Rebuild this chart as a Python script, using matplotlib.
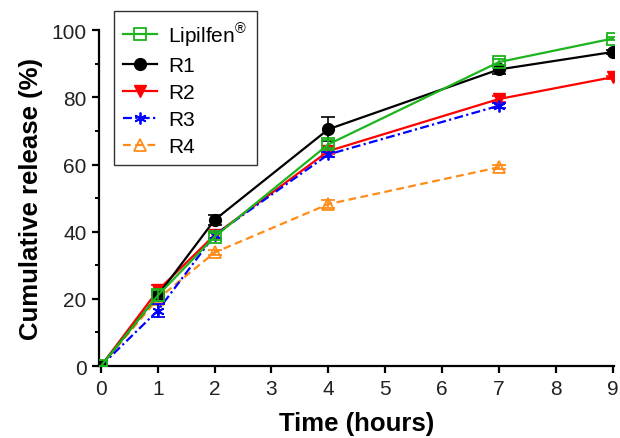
import numpy as np
import matplotlib
matplotlib.use('Agg')
import matplotlib.pyplot as plt
from matplotlib.ticker import MultipleLocator

plt.rcParams['font.family'] = ['Liberation Sans', 'DejaVu Sans']
plt.rcParams['mathtext.fontset'] = 'custom'
plt.rcParams['mathtext.rm'] = 'Liberation Sans'

# release data, % released vs time (hours)
time_lip = [0, 1, 2, 4, 7, 9]
lip = [0, 21, 38.5, 66, 90.5, 97.5]
lip_err = [0, 1.5, 1.0, 1.2, 1.0, 0.5]

time_r1 = [0, 1, 2, 4, 7, 9]
r1 = [0, 21, 43.5, 70.5, 88.3, 93.5]
r1_err = [0, 1.0, 1.5, 3.5, 1.3, 0.5]

time_r2 = [0, 1, 2, 4, 7, 9]
r2 = [0, 22.5, 39, 64, 79.5, 86]
r2_err = [0, 1.5, 1.0, 1.0, 0.8, 0.5]

time_r3 = [0, 1, 2, 4, 7]
r3 = [0, 16.5, 39, 63, 77.5]
r3_err = [0, 2.0, 1.0, 0.8, 0.8]

time_r4 = [0, 1, 2, 4, 7]
r4 = [0, 20, 33.8, 48.2, 59.2]
r4_err = [0, 1.0, 0.8, 1.2, 0.6]

labels = ['Lipilfen$^{\\mathrm{®}}$', 'R1', 'R2', 'R3', 'R4']

fig = plt.figure(figsize=(6.2, 4.39), dpi=100)
ax = fig.add_axes([0.160, 0.164, 0.830, 0.765])

kw = dict(lw=1.6, capsize=5, elinewidth=1.2, capthick=1.2, ms=8.5)
ebs = []
ebs.append(ax.errorbar(time_lip, lip, yerr=lip_err, color='#1DB41D', marker='s',
                       mfc='none', mew=1.3, zorder=5, **kw))
ebs.append(ax.errorbar(time_r1, r1, yerr=r1_err, color='black', marker='o',
                       zorder=4, **kw))
ebs.append(ax.errorbar(time_r2, r2, yerr=r2_err, color='#FF0000', marker='v',
                       zorder=3, **kw))
ebs.append(ax.errorbar(time_r3, r3, yerr=r3_err, color='#0000FF', marker=(6, 2, 0),
                       mew=1.3, ls=(0, (4, 1.5, 1, 1.5)), zorder=3, **kw))
ebs.append(ax.errorbar(time_r4, r4, yerr=r4_err, color='#FF8C1A', marker='^',
                       mfc='none', mew=1.3, ls=(0, (3.5, 2)), zorder=2, **kw))

ax.set_xlim(-0.03, 9.02)
ax.set_ylim(0, 100)
ax.xaxis.set_major_locator(MultipleLocator(1))
ax.yaxis.set_major_locator(MultipleLocator(20))
ax.yaxis.set_minor_locator(MultipleLocator(10))
for s in ['top', 'right']:
    ax.spines[s].set_visible(False)
for s in ['left', 'bottom']:
    ax.spines[s].set_linewidth(1.6)
ax.tick_params(which='major', direction='out', length=5, width=1.6,
               labelsize=15, colors='black', pad=4)
ax.tick_params(which='minor', direction='out', length=3, width=1.4)
for lbl in ax.get_xticklabels() + ax.get_yticklabels():
    lbl.set_color('#222222')

ax.set_xlabel('Time (hours)', fontsize=18.5, fontweight='bold', labelpad=10)
ax.set_ylabel('Cumulative release (%)', fontsize=18.5, fontweight='bold', labelpad=6)

leg = ax.legend(handles=[eb[0] for eb in ebs], labels=labels,
                loc='upper left', bbox_to_anchor=(0.029, 1.057), borderaxespad=0,
                fontsize=15, frameon=True, fancybox=False, edgecolor='black',
                handlelength=1.6, handletextpad=0.55, labelspacing=0.38,
                borderpad=0.45)
leg.get_frame().set_linewidth(1.0)

fig.savefig('out.png', dpi=100)
